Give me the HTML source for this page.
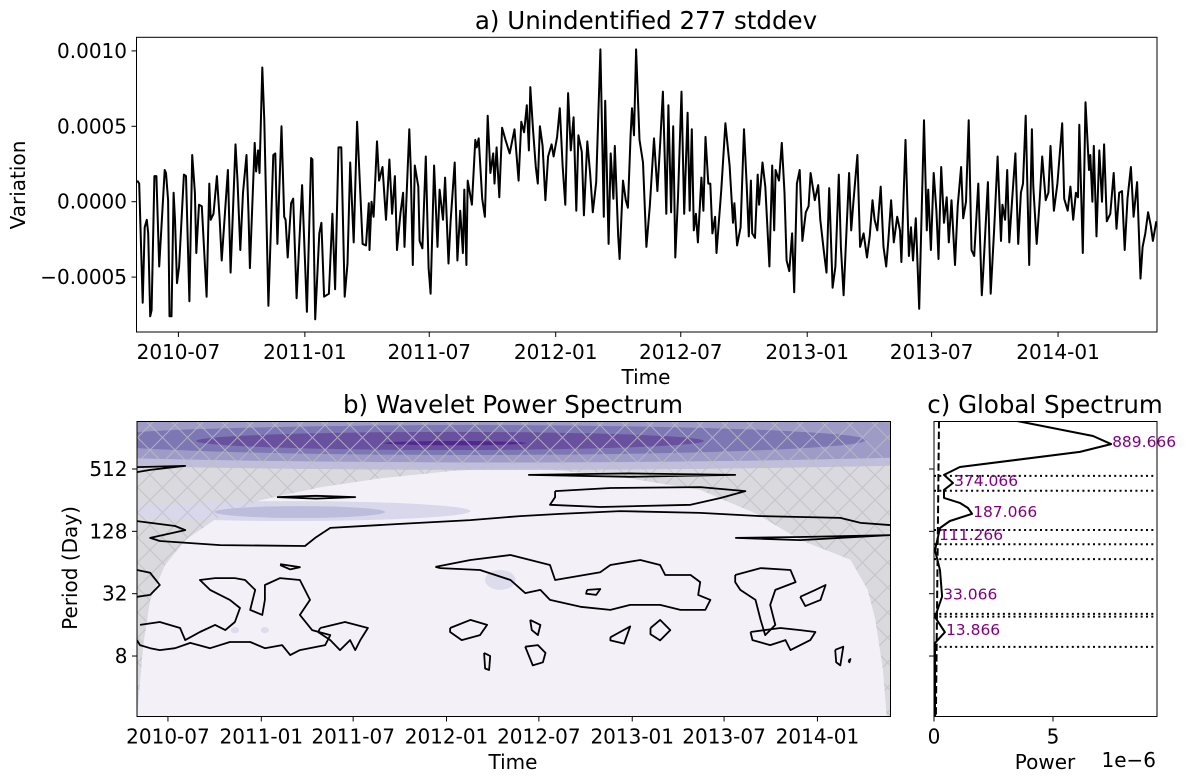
<!DOCTYPE html>
<html><head><meta charset="utf-8"><style>
html,body{margin:0;padding:0;background:#fff;}
svg{display:block;font-family:"DejaVu Sans","Liberation Sans",sans-serif;}
</style></head><body>
<svg id="fig" width="1190" height="782" viewBox="0 0 1190 782" xmlns="http://www.w3.org/2000/svg">
<defs>
<pattern id="hatch" patternUnits="userSpaceOnUse" width="25" height="25">
<path d="M0,0L25,25M25,0L0,25" stroke="#bdbdc3" stroke-width="1" stroke-opacity="0.8"/>
</pattern>
<clipPath id="clipA"><rect x="136.5" y="37.3" width="1020.5" height="294.7"/></clipPath>
<clipPath id="clipB"><rect x="137" y="421.5" width="753.5" height="295"/></clipPath>
<clipPath id="clipC"><rect x="934" y="421.5" width="223" height="295"/></clipPath>
</defs>
</svg>
<script>
// ---------- Panel a data (day offset from 2010-05-01, value in 1e-4) ----------
const daysA=[1,4,9,12,15,17,20,22,26,29,33,41,43,46,48,51,54,56,59,62,69,72,77,81,85,87,91,95,102,106,108,112,117,121,124,133,137,144,147,151,155,160,163,165,172,174,177,179,183,186,192,199,202,205,211,215,217,220,225,228,233,241,248,254,256,260,266,269,273,280,285,289,294,298,303,307,311,316,321,329,334,338,339,342,345,350,353,358,363,368,372,376,379,384,388,390,397,399,402,405,410,412,416,421,425,428,433,438,441,446,449,454,457,463,467,471,475,477,480,482,488,493,495,498,503,507,511,515,519,521,524,528,532,537,543,550,556,560,564,568,571,573,577,581,584,587,591,595,599,604,607,612,616,620,624,628,632,636,640,643,648,651,656,660,664,669,675,680,682,687,690,694,696,701,703,708,712,715,719,721,724,727,732,737,742,747,753,758,762,
766,771,774,778,781,784,788,793,797,802,805,808,811,814,817,822,825,828,832,835,838,842,844,851,857,863,868,870,874,879,884,888,891,894,896,900,904,906,911,915,921,925,928,930,935,939,943,946,950,954,957,961,965,969,974,978,981,987,992,995,1000,1004,1008,1013,1017,1022,1025,1029,1037,1040,1043,1049,1053,1058,1063,1067,1071,1074,1078,1083,1087,1091,1094,1098,1102,1107,1111,1113,1119,1124,1127,1130,1134,1139,1146,1150,1152,1156,1160,1164,1167,1171,1175,1179,1182,1186,1191,1195,1200,1203,1207,1211,1215,1219,1225,1230,1232,1239,1243,1248,1253,1258,1260,1264,1267,1270,1274,1279,1283,1287,1290,1294,1299,1303,1305,1310,1314,1318,1323,1327,1330,1335,1340,1347,1350,1355,1359,1363,1367,1370,1372,1377,1381,1386,1388,1391,1393,1397,1401,1405,1408,1412,1417,1422,1426,1430,1434,1438,1442,1447,1451,1456,1461,1464,1468,1472,1476,1479,1484];
const valsA=[1.4,1.2,-6.7,-1.7,-1.2,-2.1,-7.6,-7.2,1.7,1.7,-4.3,2.1,1.9,0.1,-7.6,-7.6,0.6,-1.2,-5.4,-4.3,1.8,1.7,-6.6,3.1,0.6,-3.4,-0.2,-0.3,-6.3,1.2,-1.2,-0.8,1.7,-1.2,-3.9,2.1,-4.7,3.8,1.4,-3.2,0.6,3.1,-0.8,-4.4,3.9,2.0,3.4,1.9,8.9,5.4,-6.9,3.1,3.2,-2.8,5.0,-1.0,-1.2,-3.7,-0.1,0.2,-6.4,1.1,-7.3,2.9,2.8,-7.8,-2.1,-1.4,-6.3,-6.1,-0.8,-5.8,3.6,3.6,-6.3,-4.1,2.6,-2.7,5.3,-2.8,-2.9,-0.1,-3.2,0,-1.0,4.0,1.4,2.3,-1.2,2.8,-0.8,1.7,-3.2,-0.8,0.6,-3.0,4.8,2.3,-4.2,2.4,1.0,-2.6,-3.1,3.0,-4.4,-6.1,2.4,-3.0,0.8,-1.2,1.6,-4.1,-1.3,2.6,-3.9,-0.6,-3.4,0.8,-4.2,1.4,-0.2,4.1,3.6,4.2,0.2,-1.0,5.7,1.9,3.2,1.2,3.6,0.3,4.9,4.1,3.2,4.8,1.4,5.3,4.6,6.4,3.4,7.6,4.8,2.3,1.2,5.0,3.7,0.1,3.0,3.8,3.0,4.3,6.2,2.4,-0.2,7.2,3.4,5.6,-0.6,4.4,3.3,-0.9,4.0,1.9,-0.7,1.3,10.1,-1.0,6.7,-2.8,3.2,0.2,3.7,-2.3,-3.8,1.4,0.1,-0.4,4.4,6.2,4.4,10.1,4.1,2.6,-3.0,-0.3,4.2,0.7,3.9,
7.3,-0.8,6.4,-0.7,5.0,-3.7,0.3,7.3,-0.8,5.9,-0.6,4.8,-1.9,-0.8,-2.7,1.6,-0.6,4.3,1.2,1.2,-2.1,-1.0,-3.4,0.8,5.2,2.4,-1.4,-0.1,-2.9,-1.7,4.8,1.1,-2.3,1.4,-2.1,-2.4,1.8,-0.2,2.6,1.0,-4.3,2.4,-1.9,2.1,1.4,3.9,0.6,-3.9,-4.6,-2.1,-6.0,1.2,2.1,-2.6,-0.7,-0.3,1.9,0.1,1.1,-1.2,-3.2,-4.7,0.9,-5.7,-4.3,1.8,-3.0,-6.2,1.9,-1.9,-0.1,3.1,-3.0,-2.1,-3.7,-2.3,0.1,-1.2,-1.9,1.0,-3.0,-4.3,-2.6,0.1,-2.7,-1.0,-1.9,-4.0,4.1,-3.6,-1.7,-3.9,-1.1,-7.1,5.4,-1.9,0.8,-3.2,1.9,-0.6,-3.8,2.3,-1.4,0.3,-2.7,0.1,-4.2,-0.3,2.3,-1.1,0,5.4,-3.2,-3.6,1.2,-6.2,-4.8,1.3,-6.1,-1.9,3.0,-2.6,-0.2,-1.2,2.1,-2.7,0,3.2,-2.8,0.6,1.2,5.7,-4.2,4.8,1.0,-2.8,-0.1,3.0,0.1,0.6,3.7,-0.6,1.2,5.2,0.2,-0.6,1.0,-1.2,0.6,0.3,5.1,-3.4,6.6,2.1,3.1,0,3.7,-2.3,3.4,0,3.8,-1.3,-0.8,1.9,-1.8,0.6,0.7,-3.2,0.2,2.3,-1.0,1.3,-5.1,-3.0,-2.1,-0.7,-1.6,-2.6,-1.3];
const tickDays=[61,245,426,610,792,976,1157,1341];
const tickLabels=["2010-07","2011-01","2011-07","2012-01","2012-07","2013-01","2013-07","2014-01"];
const yTicksA=[-5,0,5,10];
const yTickLabelsA=["\u22120.0005","0.0000","0.0005","0.0010"];
// ---------- Panel b data ----------
const periodTicks=[8,32,128,512];
const coiDays=[0,12,26,55,95,160,243,360,479,620,755,940,1110,1220,1308,1370,1406,1440,1455,1470,1478];
const coiPeriods=[2,10,28,60,105,175,256,340,415,490,535,440,322,190,105,80,68,35,18,6,2];
const blobDays=[716,716,657,617,627,302,321,716,193,252];
const blobLog2=[9.93,9.93,9.93,9.90,9.83,7.65,7.62,5.44,3.83,3.83];
const blobHalfDays=[1500,1250,780,500,140,355,168,30,8,8];
const blobHalfOct=[0.96,0.72,0.48,0.29,0.07,0.32,0.19,0.32,0.1,0.1];
const blobColors=["#c0bfdb","#9e9cc7","#7d77b3","#6a51a0","#54278f","#d8d8ea","#bcbddc","#dcdcec","#dcdcec","#dcdcec"];
const contours=[
[[0,9.06],[95,9.1],[26,8.97],[0,8.9]],
[[276,8.1],[353,8.14],[430,8.1],[353,8.05],[276,8.1]],
[[771,8.81],[972,8.86],[1179,8.81],[972,8.75],[771,8.81]],
[[824,8.29],[933,8.39],[1110,8.42],[1199,8.29],[1150,8.07],[1091,7.85],[913,7.78],[814,7.85],[824,8.10],[824,8.29]],
[[0,7.33],[75,7.17],[95,7.04],[26,6.79],[45,6.69],[164,6.56],[331,6.53],[351,6.79],[381,7.11],[519,7.24],[657,7.36],[755,7.49],[834,7.56],[952,7.65],[1110,7.59],[1229,7.49],[1386,7.43],[1426,7.27],[1485,7.20]],
[[1179,6.79],[1307,6.82],[1485,6.88],[1307,6.72],[1179,6.79]],
[[0,5.76],[26,5.67],[45,5.28],[26,4.96],[0,4.90]],
[[6,4.0],[45,4.09],[85,3.9],[95,3.51],[124,3.77],[154,4.0],[174,3.83],[193,4.09],[203,4.54],[183,4.80],[144,5.12],[124,5.44],[154,5.50],[193,5.50],[213,5.44],[233,5.12],[223,4.48],[247,4.32],[252,4.80],[252,5.28],[282,5.50],[321,5.44],[341,4.80],[321,4.32],[345,3.83],[381,3.67],[371,3.35],[321,3.19],[302,3.03],[286,3.35],[252,3.25],[223,3.45],[183,3.45],[144,3.25],[105,3.42],[75,3.25],[45,3.19],[26,3.25],[6,3.35],[0,3.51]],
[[282,5.95],[321,5.85],[302,5.78],[282,5.92]],
[[361,3.90],[410,4.09],[455,3.90],[440,3.51],[430,3.19],[420,3.51],[400,3.19],[381,3.51],[357,3.77],[361,3.90]],
[[588,5.86],[657,6.08],[736,6.24],[814,5.92],[824,5.44],[913,5.69],[933,5.92],[992,6.08],[1031,5.92],[1041,5.60],[1091,5.60],[1110,5.37],[1106,4.96],[1130,4.80],[1120,4.48],[1071,4.48],[1031,4.64],[972,4.64],[933,4.48],[874,4.58],[814,4.80],[795,5.12],[765,5.02],[736,5.44],[676,5.76],[598,5.82],[588,5.86]],
[[887,5.12],[913,5.15],[905,4.96],[885,5.0],[887,5.12]],
[[1179,5.60],[1229,5.82],[1288,5.76],[1298,5.37],[1258,5.12],[1248,4.64],[1258,4.0],[1238,3.67],[1229,4.16],[1219,4.80],[1189,5.12],[1179,5.37],[1179,5.60]],
[[1307,4.9],[1337,5.12],[1357,5.28],[1347,4.8],[1317,4.6],[1307,4.9]],
[[1209,3.77],[1268,3.90],[1307,3.83],[1337,3.77],[1327,3.51],[1288,3.19],[1278,3.51],[1248,3.35],[1213,3.51],[1209,3.77]],
[[617,3.9],[657,4.16],[690,4.0],[676,3.67],[640,3.51],[617,3.77],[617,3.9]],
[[775,4.16],[795,4.0],[790,3.67],[778,3.83],[775,4.16]],
[[933,3.6],[972,3.95],[960,3.4],[933,3.5],[933,3.6]],
[[1012,3.9],[1031,4.16],[1051,3.83],[1031,3.5],[1012,3.7],[1012,3.9]],
[[684,3.1],[696,3.0],[694,2.55],[686,2.6],[684,3.1]],
[[765,3.3],[780,2.7],[800,2.8],[805,3.1],[790,3.35],[765,3.3]],
[[1376,3.2],[1392,3.3],[1386,2.7],[1378,2.8],[1376,3.2]],
[[1402,2.85],[1406,2.9],[1404,2.8],[1402,2.85]]
];
// ---------- Panel c data ----------
const globalPeriods=[1490,1067,891,749,535,449,375,322,269,241,215,189,161,138,113,84,54,30,19,13.6,10.7,2.1];
const globalPower=[3.49,6.68,7.44,6.13,1.09,0.42,0.80,0.42,0.42,1.09,1.43,1.60,0.67,0.25,0.17,0.04,0.25,0.34,0.04,0.46,0.04,0.04];
const sigPeriods=[1490,2.1];
const sigPower=[0.21,0.08];
const dottedPeriods=[439,316,132,96,69,20.4,19.2,9.8];
const peakPeriods=[891,375,189,113,30,13.6];
const peakPowers=[7.44,0.80,1.60,0.17,0.34,0.46];
const peakLabels=["889.666","374.066","187.066","111.266","33.066","13.866"];
const powerTicks=[0,5];

const NS="http://www.w3.org/2000/svg";
const svg=document.getElementById("fig");
function mk(tag,attrs,parent){const e=document.createElementNS(NS,tag);for(const k in attrs)e.setAttribute(k,attrs[k]);(parent||svg).appendChild(e);return e;}
function txt(str,attrs,parent){const t=mk("text",attrs,parent);t.textContent=str;return t;}

const A={l:136.5,r:1157,t:37.3,b:332};
const xA=d=>A.l+d*(A.r-A.l)/1485;
const yA=v=>201.7-v*15.08;
const B={l:137,r:890.5,t:421.5,b:716.5};
const xB=d=>B.l+d*(B.r-B.l)/1485;
const yLog=l=>469-(l-9)*31.17;
const yP=p=>yLog(Math.log2(p));
const C={l:934,r:1157,t:421.5,b:716.5};
const xC=w=>C.l+w*23.8;

// ===== Panel a =====
const gA=mk("g",{});


let d="";
const nA=Math.min(daysA.length,valsA.length);
for(let i=0;i<nA;i++){d+=(i?"L":"M")+xA(daysA[i]).toFixed(1)+","+yA(valsA[i]).toFixed(1);}
const lineA=mk("path",{d:d,fill:"none",stroke:"#000","stroke-width":2,"stroke-linejoin":"round","clip-path":"url(#clipA)"},gA);


const frA=mk("rect",{x:A.l,y:A.t,width:A.r-A.l,height:A.b-A.t,fill:"none",stroke:"#000","stroke-width":1},gA);


tickDays.forEach((td,i)=>{
  const x=xA(td);
  const tk=mk("line",{x1:x,x2:x,y1:A.b,y2:A.b+5,stroke:"#000"},gA);
  
  
  const tl=txt(tickLabels[i],{x:x,y:A.b+27,"font-size":20,"text-anchor":"middle"},gA);
  
  
});
yTicksA.forEach((v,i)=>{
  const y=yA(v);
  const tk=mk("line",{x1:A.l-5,x2:A.l,y1:y,y2:y,stroke:"#000"},gA);
  
  
  const tl=txt(yTickLabelsA[i],{x:A.l-9.5,y:y+7,"font-size":20,"text-anchor":"end"},gA);
  
  
});
const tA=txt("a) Unindentified 277 stddev",{x:646,y:29,"font-size":24.5,"text-anchor":"middle"},gA);


const xlA=txt("Time",{x:646,y:384,"font-size":20,"text-anchor":"middle"},gA);


const ylA=txt("Variation",{x:0,y:0,"font-size":20,"text-anchor":"middle",transform:"translate(25,185) rotate(-90)"},gA);



// ===== Panel b =====
const gB=mk("g",{});


const inner=mk("g",{"clip-path":"url(#clipB)"},gB);
const bg=mk("rect",{x:B.l,y:B.t,width:B.r-B.l,height:B.b-B.t,fill:"#f3f1f7"},inner);


let cd="M"+B.l+","+B.t+"L"+B.l+","+(B.b+5);
for(let i=0;i<coiDays.length;i++){cd+="L"+xB(coiDays[i]).toFixed(1)+","+yP(coiPeriods[i]).toFixed(1);}
cd+="L"+B.r+","+(B.b+5)+"L"+B.r+","+B.t+"Z";
const coi=mk("path",{d:cd,fill:"#c4c4c8","fill-opacity":0.55,stroke:"none"},inner);


for(let i=0;i<blobDays.length;i++){
  const cx=xB(blobDays[i]),cy=yLog(blobLog2[i]);
  const rx=blobHalfDays[i]*(B.r-B.l)/1485, ry=blobHalfOct[i]*31.17;
  const e=mk("ellipse",{cx:cx,cy:cy,rx:rx,ry:ry,fill:blobColors[i]},inner);
  
  
}
const coiH=mk("path",{d:cd,fill:"url(#hatch)",stroke:"none"},inner);


contours.forEach(c=>{
  let p="";
  c.forEach((pt,i)=>{p+=(i?"L":"M")+xB(pt[0]).toFixed(1)+","+yLog(pt[1]).toFixed(1);});
  const cp=mk("path",{d:p,fill:"none",stroke:"#000","stroke-width":1.8,"stroke-linejoin":"round"},inner);
  
  
});
const frB=mk("rect",{x:B.l,y:B.t,width:B.r-B.l,height:B.b-B.t,fill:"none",stroke:"#000","stroke-width":1},gB);


tickDays.forEach((td,i)=>{
  const x=xB(td);
  const tk=mk("line",{x1:x,x2:x,y1:B.b,y2:B.b+5,stroke:"#000"},gB);
  
  
  const tl=txt(tickLabels[i],{x:x,y:B.b+27,"font-size":20,"text-anchor":"middle"},gB);
  
  
});
periodTicks.forEach(p=>{
  const y=yP(p);
  const tk=mk("line",{x1:B.l-5,x2:B.l,y1:y,y2:y,stroke:"#000"},gB);
  
  
  const tl=txt(String(p),{x:B.l-9.5,y:y+7,"font-size":20,"text-anchor":"end"},gB);
  
  
});
const tB=txt("b) Wavelet Power Spectrum",{x:513,y:413,"font-size":24.5,"text-anchor":"middle"},gB);


const xlB=txt("Time",{x:513,y:769,"font-size":20,"text-anchor":"middle"},gB);


const ylB=txt("Period (Day)",{x:0,y:0,"font-size":20,"text-anchor":"middle",transform:"translate(77,568) rotate(-90)"},gB);



// ===== Panel c =====
const gC=mk("g",{});


const innerC=mk("g",{"clip-path":"url(#clipC)"},gC);
dottedPeriods.forEach(p=>{
  const y=yP(p);
  const l=mk("line",{x1:C.l,x2:C.r,y1:y,y2:y,stroke:"#000","stroke-width":2,"stroke-dasharray":"2,3.3"},innerC);
  
  
});
let sd="";
for(let i=0;i<sigPeriods.length;i++){sd+=(i?"L":"M")+xC(sigPower[i]).toFixed(1)+","+yP(sigPeriods[i]).toFixed(1);}
const sig=mk("path",{d:sd,fill:"none",stroke:"#000","stroke-width":2,"stroke-dasharray":"7.4,3.2"},innerC);


let gd="";
for(let i=0;i<globalPeriods.length;i++){gd+=(i?"L":"M")+xC(globalPower[i]).toFixed(1)+","+yP(globalPeriods[i]).toFixed(1);}
const gl=mk("path",{d:gd,fill:"none",stroke:"#000","stroke-width":2,"stroke-linejoin":"round"},innerC);


peakLabels.forEach((s,i)=>{
  const t=txt(s,{x:xC(peakPowers[i])+1,y:yP(peakPeriods[i])+3,"font-size":15.5,fill:"#800080"},gC);
  
  
});
const frC=mk("rect",{x:C.l,y:C.t,width:C.r-C.l,height:C.b-C.t,fill:"none",stroke:"#000","stroke-width":1},gC);


periodTicks.forEach(p=>{
  const y=yP(p);
  const tk=mk("line",{x1:C.l-5,x2:C.l,y1:y,y2:y,stroke:"#000"},gC);
  
  
});
powerTicks.forEach(w=>{
  const x=xC(w);
  const tk=mk("line",{x1:x,x2:x,y1:C.b,y2:C.b+5,stroke:"#000"},gC);
  
  
  const tl=txt(String(w),{x:x,y:C.b+27,"font-size":20,"text-anchor":"middle"},gC);
  
  
});
const tC=txt("c) Global Spectrum",{x:1045,y:413,"font-size":24.5,"text-anchor":"middle"},gC);


const xlC=txt("Power",{x:1045,y:769,"font-size":20,"text-anchor":"middle"},gC);


const ofs=txt("1e\u22126",{x:1156,y:767,"font-size":20,"text-anchor":"end"},gC);


</script>
</body></html>
